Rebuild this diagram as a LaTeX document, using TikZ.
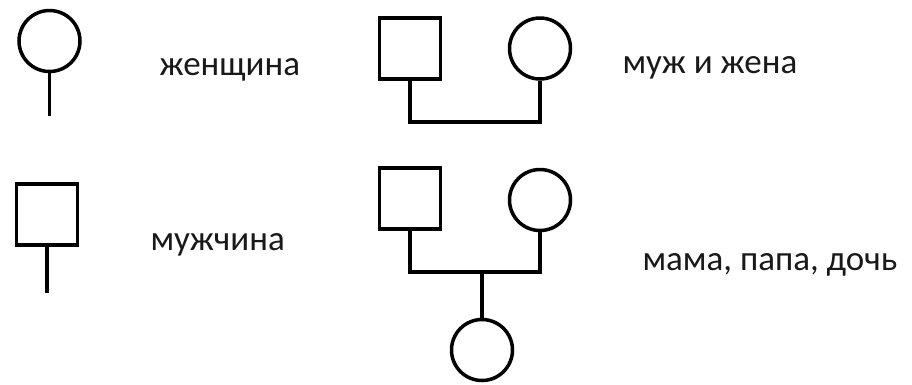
\documentclass[tikz,border=0pt]{standalone}
\usepackage{fontspec}
\setmainfont{Carlito}
\usetikzlibrary{positioning}

\begin{document}
\begin{tikzpicture}[x=1pt,y=-1pt,
        zhen/.style={draw, circle, line width=3.5pt, minimum size=61pt, inner sep=0pt},
        muzh/.style={draw, rectangle, line width=3.5pt, minimum size=61pt, inner sep=0pt},
        linija/.style={line width=3.5pt},
        podpis/.style={anchor=base west, font=\fontsize{35}{42}\selectfont, text=black!90}]
        \useasboundingbox (0,0) rectangle (912,384);

        % Женщина
        \node[zhen] (zh) at (49.5,41) {};
        \coordinate (zhkon) at (49.5,116);
        \draw[linija] (zh.south) -- (zhkon);
        \node[podpis] (tzh) at (156,75) {женщина};

        % Мужчина
        \node[muzh] (mu) at (47,214.5) {};
        \coordinate (mukon) at (47,293);
        \draw[linija] (mu.south) -- (mukon);
        \node[podpis] (tmu) at (147,250) {мужчина};

        % Муж и жена
        \node[muzh] (muzh1) at (410,48.5) {};
        \node[zhen] (zhena1) at (540,48.5) {};
        \coordinate (brak1) at (475,122);
        \draw[linija] (muzh1.south) |- (brak1) -| (zhena1.south);
        \node[podpis] (tbrak) at (619,73) {муж и жена};

        % Мама, папа, дочь
        \node[muzh] (papa) at (410,198.5) {};
        \node[zhen] (mama) at (540,200) {};
        \node[zhen] (doch) at (482,350) {};
        \coordinate (brak2) at (482,272);
        \draw[linija] (papa.south) |- (brak2) -| (mama.south);
        \draw[linija] (brak2) -- (doch.north);
        \node[podpis] (tsem) at (639,270) {мама, папа, дочь};
\end{tikzpicture}
\end{document}
